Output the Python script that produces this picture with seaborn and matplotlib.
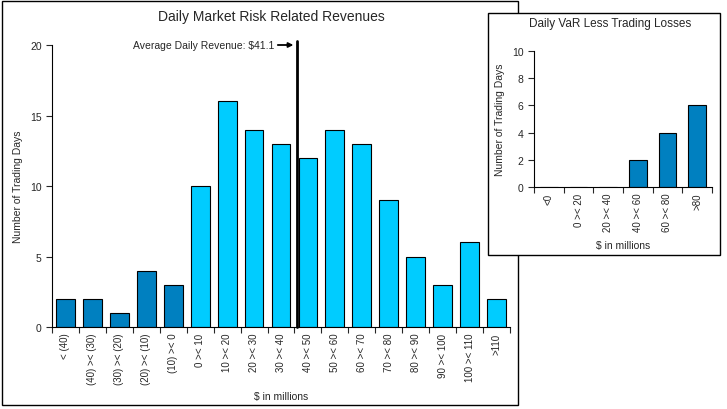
import numpy as np
import pandas as pd
import seaborn as sns
import matplotlib.pyplot as plt
from matplotlib.patches import Rectangle

sns.set_style("white")
plt.rcParams['font.family'] = ['Liberation Sans', 'DejaVu Sans']

# main histogram
rev_buckets = ["< (40)", "(40) >< (30)", "(30) >< (20)", "(20) >< (10)", "(10) >< 0",
               "0 >< 10", "10 >< 20", "20 >< 30", "30 >< 40", "40 >< 50", "50 >< 60",
               "60 >< 70", "70 >< 80", "80 >< 90", "90 >< 100", "100 >< 110", ">110"]
rev_days = [2, 2, 1, 4, 3, 10, 16, 14, 13, 12, 14, 13, 9, 5, 3, 6, 2]
avg_revenue = 41.1

# inset histogram
var_buckets = ["<0", "0 >< 20", "20 >< 40", "40 >< 60", "60 >< 80", ">80"]
var_days = [0, 0, 0, 2, 4, 6]

DARK = "#0080C0"
LIGHT = "#00CCFF"
W, H = 727, 410

fig = plt.figure(figsize=(W / 100, H / 100), dpi=100)

def px(x0, y0, x1, y1):
    return [x0 / W, 1 - y1 / H, (x1 - x0) / W, (y1 - y0) / H]

def style_axis(ax, n, ymax, ystep):
    ax.set_xlim(-0.5, n - 0.5)
    ax.set_ylim(0, ymax)
    ax.set_yticks(np.arange(0, ymax + 1, ystep))
    ax.set_xticks(np.arange(-0.5, n, 1.0), minor=True)
    ax.tick_params(axis="x", which="major", length=0, labelsize=7, rotation=90, pad=4)
    ax.tick_params(axis="x", which="minor", length=4, width=0.8, direction="out", bottom=True)
    ax.tick_params(axis="y", length=4, width=0.8, direction="out", left=True, labelsize=7.5)
    for s in ["top", "right"]:
        ax.spines[s].set_visible(False)
    for s in ["left", "bottom"]:
        ax.spines[s].set_color("black")
        ax.spines[s].set_linewidth(0.8)
    ax.set_facecolor("none")

# outer frame of main chart
fig.patches.append(Rectangle((2 / W, 1 - 406 / H), 516 / W, 404 / H, transform=fig.transFigure,
                             fill=False, edgecolor="black", linewidth=1, zorder=1))

ax = fig.add_axes(px(52, 46, 510, 328))
ax.set_zorder(0)
df = pd.DataFrame({"bucket": rev_buckets, "days": rev_days})
colors = [DARK if i < 5 else LIGHT for i in range(len(rev_buckets))]
sns.barplot(data=df, x="bucket", y="days", hue="bucket", palette=colors, legend=False,
            width=0.7, edgecolor="black", linewidth=0.8, saturation=1, ax=ax)
style_axis(ax, len(rev_buckets), 20, 5)
ax.set_xlabel("$ in millions", fontsize=7.5, labelpad=5)
ax.set_ylabel("Number of Trading Days", fontsize=7.5, labelpad=5)

# average revenue marker: "0 >< 10" bucket starts at index 4.5
avg_x = 4.5 + avg_revenue / 10
ax.plot([avg_x, avg_x], [0, 20.3], color="black", linewidth=2, clip_on=False, zorder=5)
ax.annotate("Average Daily Revenue: $41.1", xy=(avg_x - 0.15, 20), xytext=(avg_x - 0.85, 20),
            fontsize=7.5, ha="right", va="center",
            arrowprops=dict(arrowstyle="-|>", color="black", lw=1.3, mutation_scale=7,
                            shrinkA=0, shrinkB=0))
fig.text(271 / W, 1 - 17 / H, "Daily Market Risk Related Revenues", fontsize=10,
         ha="center", va="center")

# inset frame with white background
fig.patches.append(Rectangle((488 / W, 1 - 256 / H), 232 / W, 242 / H, transform=fig.transFigure,
                             facecolor="white", edgecolor="black", linewidth=1, zorder=2))

ax2 = fig.add_axes(px(534, 52, 712, 188))
ax2.set_zorder(3)
df2 = pd.DataFrame({"bucket": var_buckets, "days": var_days})
sns.barplot(data=df2, x="bucket", y="days", color=DARK, width=0.6,
            edgecolor="black", linewidth=0.8, saturation=1, ax=ax2)
style_axis(ax2, len(var_buckets), 10, 2)
ax2.set_xlabel("$ in millions", fontsize=7.5, labelpad=6)
ax2.set_ylabel("Number of Trading Days", fontsize=7.5, labelpad=5)
fig.text(610 / W, 1 - 24 / H, "Daily VaR Less Trading Losses", fontsize=8.5,
         ha="center", va="center", zorder=4)

fig.savefig("out.png", dpi=100)
